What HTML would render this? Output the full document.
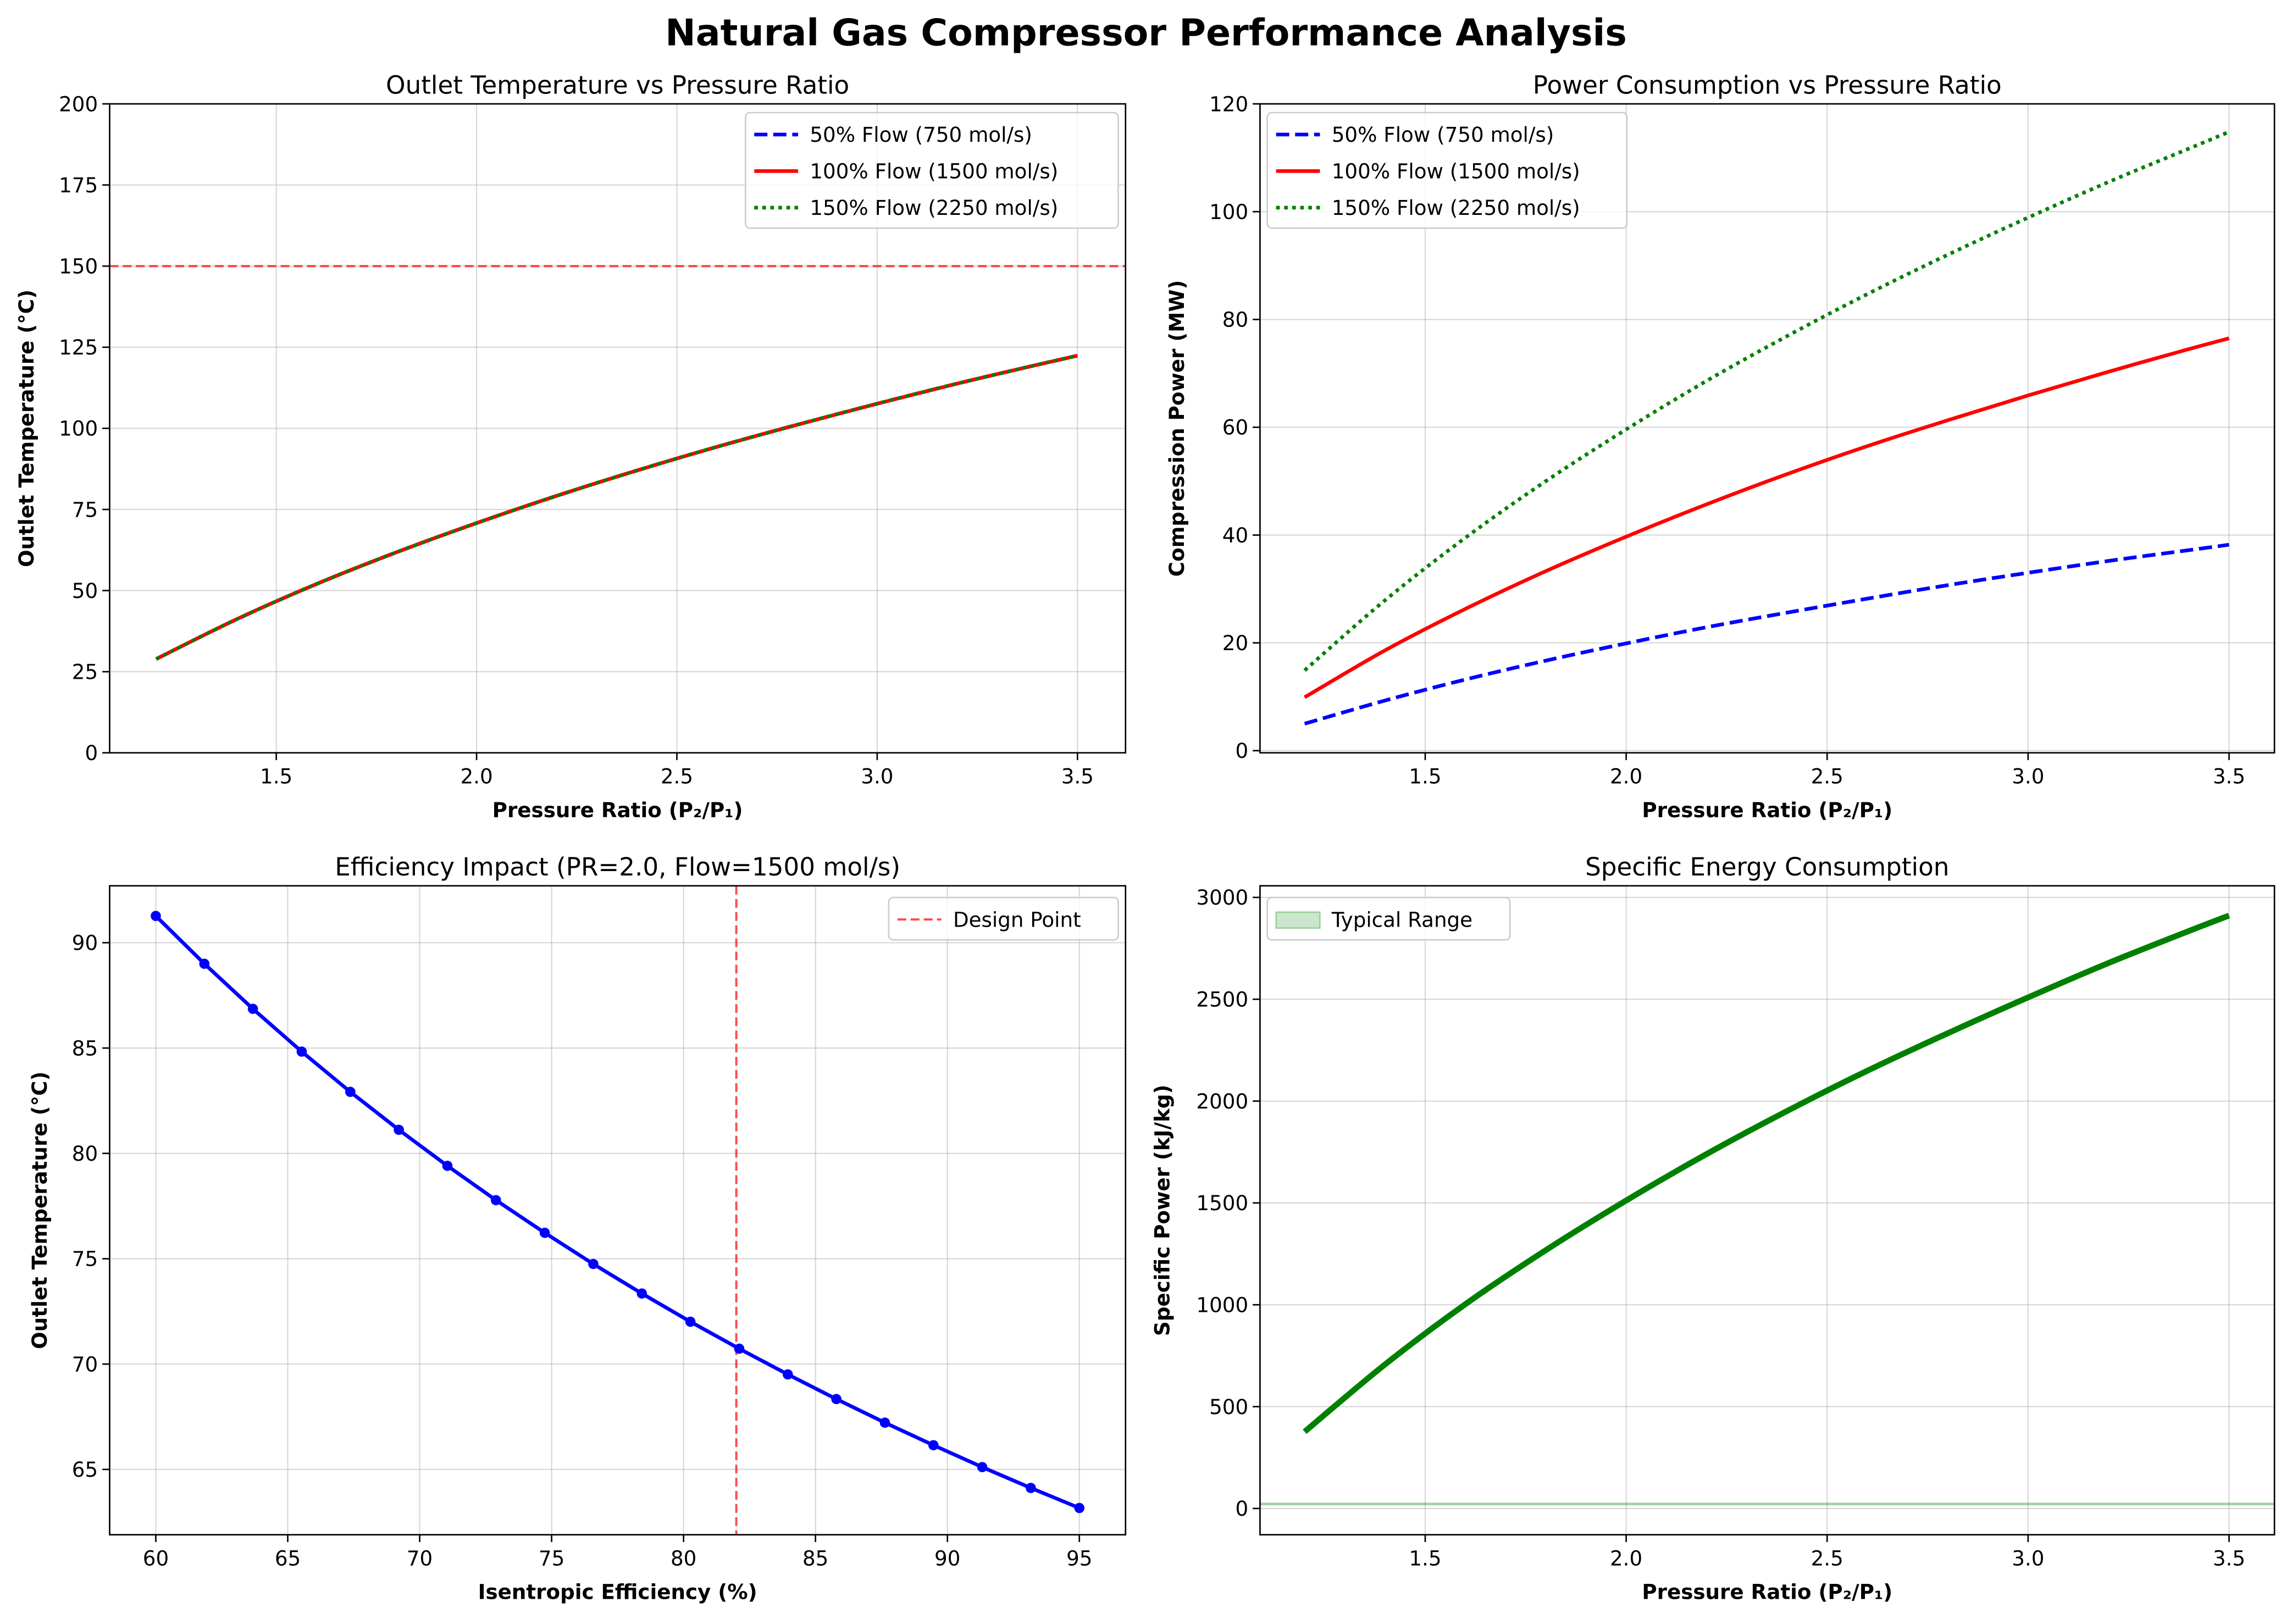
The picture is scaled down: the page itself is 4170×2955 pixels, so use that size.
<!DOCTYPE html>
<html><head><meta charset="utf-8"><style>
html,body{margin:0;padding:0;background:#fff}
svg{display:block}
text{font-family:"DejaVu Sans","Liberation Sans",sans-serif;fill:#000}
</style></head><body>
<svg id="fig" width="4170" height="2955" viewBox="0 0 1568 1111" xmlns="http://www.w3.org/2000/svg">
<rect width="1568" height="1111" fill="#fff"/>
<text x="784" y="31" text-anchor="middle" font-size="25" font-weight="bold">Natural Gas Compressor Performance Analysis</text>
</svg>
<script>
const pressureRatios=[1.2,1.4,1.6,1.8,2.0,2.2,2.4,2.6,2.8,3.0,3.2,3.4,3.5];
const outletTemp=[28.9,41.1,52.0,61.8,70.8,79.2,87.0,94.3,101.1,107.6,113.8,119.6,122.4];
const power50=[5.0,9.3,13.2,16.7,19.9,22.9,25.6,28.2,30.7,33.0,35.2,37.2,38.2];
const power100=[9.9,18.6,26.3,33.3,39.7,45.7,51.3,56.5,61.3,65.9,70.3,74.5,76.5];
const power150=[14.9,27.9,39.5,50.0,59.6,68.6,76.9,84.7,92.0,98.9,105.5,111.7,114.8];
const specificPower=[377,707,1003,1268,1512,1740,1951,2149,2333,2509,2678,2835,2911];
const efficiencies=[60,61.84,63.68,65.53,67.37,69.21,71.05,72.89,74.74,76.58,78.42,80.26,82.11,83.95,85.79,87.63,89.47,91.32,93.16,95];
const effTemps=[91.27,89.0,86.86,84.83,82.92,81.12,79.41,77.78,76.23,74.75,73.35,72.01,70.73,69.51,68.34,67.22,66.15,65.11,64.12,63.17];
const prTicks=[1.5,2.0,2.5,3.0,3.5];
const tempTicks=[0,25,50,75,100,125,150,175,200];
const powerTicks=[0,20,40,60,80,100,120];
const effTicks=[60,65,70,75,80,85,90,95];
const effTempTicks=[65,70,75,80,85,90];
const specTicks=[0,500,1000,1500,2000,2500,3000];
const tempLimit=150, designEff=82, typicalRange=[18,26];

const NS="http://www.w3.org/2000/svg";
const svg=document.getElementById('fig');
function el(tag,attrs,parent,txt){const e=document.createElementNS(NS,tag);for(const k in attrs)e.setAttribute(k,attrs[k]);if(txt!==undefined)e.textContent=txt;(parent||svg).appendChild(e);return e;}
function scale(d0,d1,r0,r1){return v=>r0+(v-d0)/(d1-d0)*(r1-r0);}

function panel(name,box,xd,yd,xt,yt,xfmt,yfmt,title,xlabel,ylabel,ylx){
  const g=el('g',{});
  
  
  const x=scale(xd[0],xd[1],box[0],box[2]),y=scale(yd[0],yd[1],box[3],box[1]);
  xt.forEach(t=>{const l=el('line',{x1:x(t),x2:x(t),y1:box[1],y2:box[3],stroke:'#b0b0b0','stroke-opacity':0.5,'stroke-width':0.8},g);
    });
  yt.forEach(t=>{const l=el('line',{x1:box[0],x2:box[2],y1:y(t),y2:y(t),stroke:'#b0b0b0','stroke-opacity':0.5,'stroke-width':0.8},g);
    });
  xt.forEach(t=>{el('line',{x1:x(t),x2:x(t),y1:box[3],y2:box[3]+5,stroke:'#000','stroke-width':1},g);
    const tx=el('text',{x:x(t),y:box[3]+21,'text-anchor':'middle','font-size':14},g,xfmt(t));
    });
  yt.forEach(t=>{el('line',{x1:box[0]-5,x2:box[0],y1:y(t),y2:y(t),stroke:'#000','stroke-width':1},g);
    const tx=el('text',{x:box[0]-8,y:y(t)+5,'text-anchor':'end','font-size':14},g,yfmt(t));
    });
  const tt=el('text',{x:(box[0]+box[2])/2,y:box[1]-7,'text-anchor':'middle','font-size':17},g,title);
  
  const xl=el('text',{x:(box[0]+box[2])/2,y:box[3]+44,'text-anchor':'middle','font-size':14,'font-weight':'bold'},g,xlabel);
  
  const cy=(box[1]+box[3])/2, lx=ylx;
  const yl=el('text',{x:lx,y:cy,'text-anchor':'middle','font-size':14,'font-weight':'bold',transform:`rotate(-90 ${lx} ${cy})`},g,ylabel);
  
  const plot=el('g',{},g);
  const fr=el('rect',{x:box[0],y:box[1],width:box[2]-box[0],height:box[3]-box[1],fill:'none',stroke:'#000','stroke-width':1},g);
  
  return {g,plot,x,y,box};
}
function line(p,xs,ys,attrs,name,smooth){
  const P=xs.map((v,i)=>[p.x(v),p.y(ys[i])]);
  let d='M'+P[0][0].toFixed(2)+','+P[0][1].toFixed(2);
  for(let i=0;i<P.length-1;i++){
    if(!smooth){d+=' L'+P[i+1][0].toFixed(2)+','+P[i+1][1].toFixed(2);continue;}
    const p0=P[Math.max(0,i-1)],p1=P[i],p2=P[i+1],p3=P[Math.min(P.length-1,i+2)];
    const c1=[p1[0]+(p2[0]-p0[0])/6,p1[1]+(p2[1]-p0[1])/6],c2=[p2[0]-(p3[0]-p1[0])/6,p2[1]-(p3[1]-p1[1])/6];
    d+=` C${c1[0].toFixed(2)},${c1[1].toFixed(2)} ${c2[0].toFixed(2)},${c2[1].toFixed(2)} ${p2[0].toFixed(2)},${p2[1].toFixed(2)}`;
  }
  const e=el('path',Object.assign({d:d,fill:'none','stroke-linejoin':'round'},attrs),p.plot);
  
  
  return e;
}
function legend(p,x0,y0,w,items){
  const lg=el('g',{},p.g);
  
  
  el('rect',{x:x0,y:y0,width:w,height:items.length*25+4,rx:3,fill:'#fff','fill-opacity':0.8,stroke:'#ccc'},lg);
  items.forEach((it,i)=>{const cy=y0+15+i*25;
    const e=el('g',{},lg);
    
    
    if(it.patch)el('rect',{x:x0+6,y:cy-5,width:30,height:11,fill:'green','fill-opacity':0.2,stroke:'green','stroke-opacity':0.3},e);
    else el('line',Object.assign({x1:x0+6,x2:x0+36,y1:cy,y2:cy},it.a),e);
    el('text',{x:x0+44,y:cy+5,'font-size':14},e,it.t);});
}
const f1=v=>v.toFixed(1), f0=v=>String(v);

// Panel 1
const p1=panel('outlet-temp-panel',[75,71,770,515],[1.084,3.62],[0,200],prTicks,tempTicks,f1,f0,'Outlet Temperature vs Pressure Ratio','Pressure Ratio (P₂/P₁)','Outlet Temperature (°C)',23);
const lim=el('line',{x1:75,x2:770,y1:p1.y(tempLimit),y2:p1.y(tempLimit),stroke:'red','stroke-opacity':0.7,'stroke-width':1.5,'stroke-dasharray':'6,3'},p1.plot);


line(p1,pressureRatios,outletTemp,{stroke:'blue','stroke-width':2.5,'stroke-dasharray':'9,4'},'temp-50-flow-line',true);
line(p1,pressureRatios,outletTemp,{stroke:'red','stroke-width':2.5},'temp-100-flow-line',true);
line(p1,pressureRatios,outletTemp,{stroke:'green','stroke-width':2.5,'stroke-dasharray':'2.5,3'},'temp-150-flow-line',true);
const flowItems=[{t:'50% Flow (750 mol/s)',a:{stroke:'blue','stroke-width':2.5,'stroke-dasharray':'9,4'}},{t:'100% Flow (1500 mol/s)',a:{stroke:'red','stroke-width':2.5}},{t:'150% Flow (2250 mol/s)',a:{stroke:'green','stroke-width':2.5,'stroke-dasharray':'2.5,3'}}];
legend(p1,510,77,255,flowItems);

// Panel 2
const p2=panel('power-panel',[862,71,1556,515],[1.089,3.613],[-0.4,120],prTicks,powerTicks,f1,f0,'Power Consumption vs Pressure Ratio','Pressure Ratio (P₂/P₁)','Compression Power (MW)',810);
line(p2,pressureRatios,power50,{stroke:'blue','stroke-width':2.5,'stroke-dasharray':'9,4'},'power-50-flow-line',true);
line(p2,pressureRatios,power100,{stroke:'red','stroke-width':2.5},'power-100-flow-line',true);
line(p2,pressureRatios,power150,{stroke:'green','stroke-width':2.5,'stroke-dasharray':'2.5,3'},'power-150-flow-line',true);
legend(p2,867,77,246,flowItems);

// Panel 3
const p3=panel('efficiency-panel',[75,606,770,1050],[58.25,96.75],[61.9,92.7],effTicks,effTempTicks,f0,f0,'Efficiency Impact (PR=2.0, Flow=1500 mol/s)','Isentropic Efficiency (%)','Outlet Temperature (°C)',32);
const dl=el('line',{x1:p3.x(designEff),x2:p3.x(designEff),y1:606,y2:1050,stroke:'red','stroke-opacity':0.7,'stroke-width':1.5,'stroke-dasharray':'6,3'},p3.plot);


line(p3,efficiencies,effTemps,{stroke:'blue','stroke-width':2.5},'efficiency-temp-line',false);
efficiencies.forEach((v,i)=>{const c=el('circle',{cx:p3.x(v),cy:p3.y(effTemps[i]),r:3.5,fill:'blue'},p3.plot);
  
  });
legend(p3,608,614,157,[{t:'Design Point',a:{stroke:'red','stroke-opacity':0.7,'stroke-width':1.5,'stroke-dasharray':'6,3'}}]);

// Panel 4
const p4=panel('specific-energy-panel',[862,606,1556,1050],[1.089,3.613],[-129,3057],prTicks,specTicks,f1,f0,'Specific Energy Consumption','Pressure Ratio (P₂/P₁)','Specific Power (kJ/kg)',800);
const band=el('rect',{x:862,y:p4.y(typicalRange[1]),width:694,height:Math.max(1,p4.y(typicalRange[0])-p4.y(typicalRange[1])),fill:'green','fill-opacity':0.2,stroke:'green','stroke-opacity':0.3,'stroke-width':0.8},p4.plot);


line(p4,pressureRatios,specificPower,{stroke:'green','stroke-width':4},'specific-power-line',true);
legend(p4,867,614,166,[{t:'Typical Range',patch:true}]);
</script>
</body></html>
